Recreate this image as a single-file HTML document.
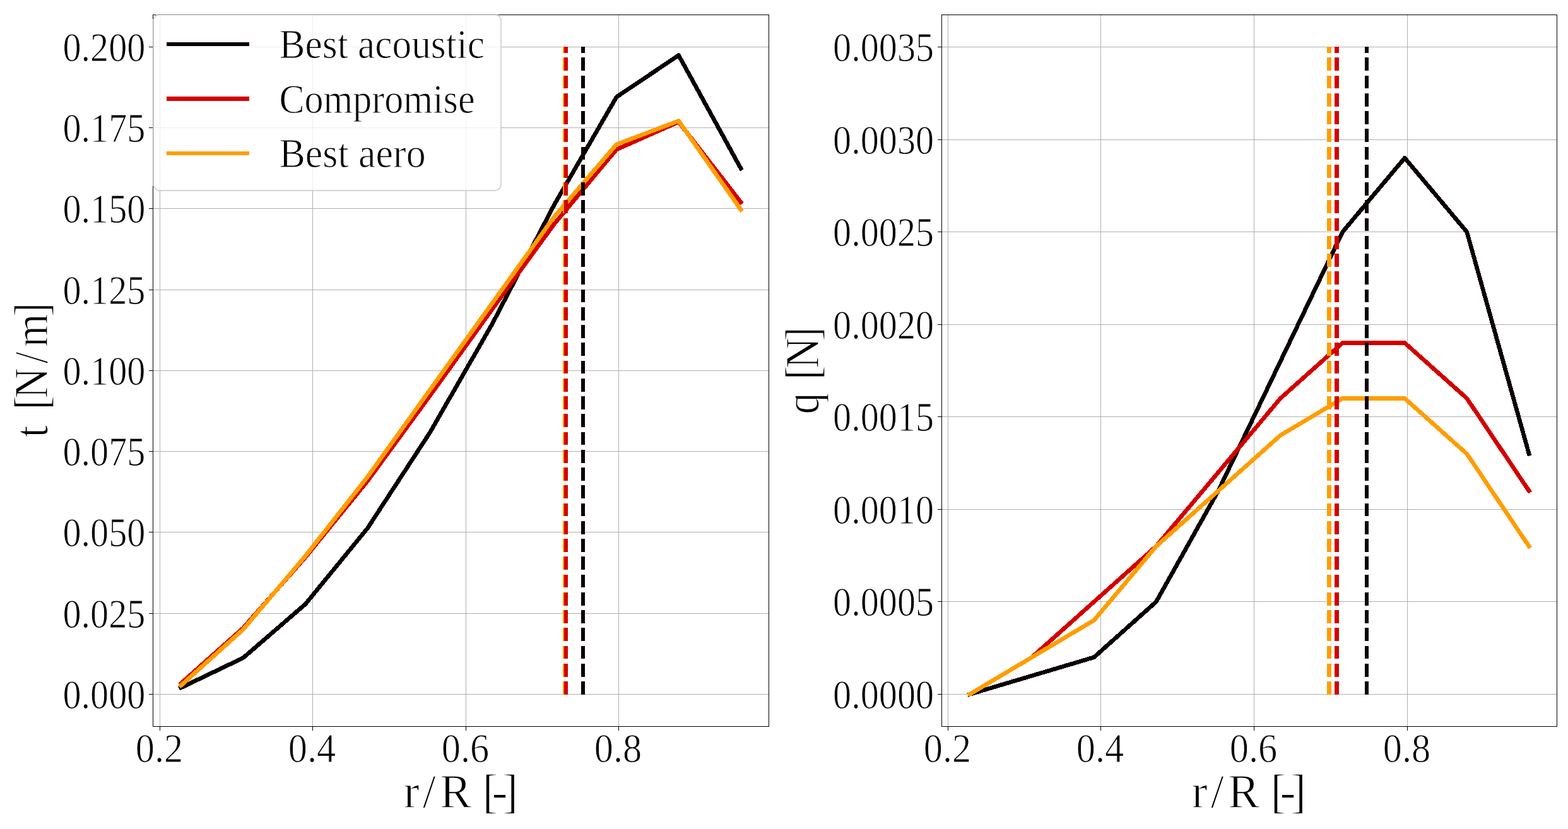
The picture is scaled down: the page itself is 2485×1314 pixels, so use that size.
<!DOCTYPE html>
<html lang="en"><head><meta charset="utf-8"><title>Thrust and torque distribution</title>
<style>html,body{margin:0;padding:0;background:#fff;}svg{display:block;}text{font-family:"Liberation Serif",serif;fill:#000;stroke:#fff;stroke-width:1px;stroke-linejoin:round;paint-order:fill stroke;}#axis-labels text{stroke-width:1.3px;}</style></head>
<body>
<svg width="2485" height="1314" viewBox="0 0 2485 1314">
<rect x="0" y="0" width="2485" height="1314" fill="#ffffff"/>
<g id="left-axes">
<line x1="253.5" y1="23.5" x2="253.5" y2="1151.5" stroke="#b0b0b0" stroke-width="1" shape-rendering="crispEdges"/>
<line x1="495.5" y1="23.5" x2="495.5" y2="1151.5" stroke="#b0b0b0" stroke-width="1" shape-rendering="crispEdges"/>
<line x1="738.5" y1="23.5" x2="738.5" y2="1151.5" stroke="#b0b0b0" stroke-width="1" shape-rendering="crispEdges"/>
<line x1="980.5" y1="23.5" x2="980.5" y2="1151.5" stroke="#b0b0b0" stroke-width="1" shape-rendering="crispEdges"/>
<line x1="242.5" y1="1100.5" x2="1218.5" y2="1100.5" stroke="#b0b0b0" stroke-width="1" shape-rendering="crispEdges"/>
<line x1="242.5" y1="972.5" x2="1218.5" y2="972.5" stroke="#b0b0b0" stroke-width="1" shape-rendering="crispEdges"/>
<line x1="242.5" y1="843.5" x2="1218.5" y2="843.5" stroke="#b0b0b0" stroke-width="1" shape-rendering="crispEdges"/>
<line x1="242.5" y1="715.5" x2="1218.5" y2="715.5" stroke="#b0b0b0" stroke-width="1" shape-rendering="crispEdges"/>
<line x1="242.5" y1="587.5" x2="1218.5" y2="587.5" stroke="#b0b0b0" stroke-width="1" shape-rendering="crispEdges"/>
<line x1="242.5" y1="459.5" x2="1218.5" y2="459.5" stroke="#b0b0b0" stroke-width="1" shape-rendering="crispEdges"/>
<line x1="242.5" y1="330.5" x2="1218.5" y2="330.5" stroke="#b0b0b0" stroke-width="1" shape-rendering="crispEdges"/>
<line x1="242.5" y1="202.5" x2="1218.5" y2="202.5" stroke="#b0b0b0" stroke-width="1" shape-rendering="crispEdges"/>
<line x1="242.5" y1="74.5" x2="1218.5" y2="74.5" stroke="#b0b0b0" stroke-width="1" shape-rendering="crispEdges"/>
<polyline points="286.9,1090 385.48,1042.7 484.06,957.5 582.63,837 681.21,685.8 779.79,514 878.37,324.5 976.94,153.9 1075.52,87.6 1174.1,267" fill="none" stroke="#0b0000" stroke-width="6.7" stroke-linejoin="round" stroke-linecap="square" shape-rendering="crispEdges"/>
<polyline points="286.9,1083.1 385.48,995.4 484.06,883.2 582.63,762.2 681.21,627.5 779.79,490.5 878.37,355 976.94,237 1075.52,193.3 1174.1,320.5" fill="none" stroke="#d30000" stroke-width="6.7" stroke-linejoin="round" stroke-linecap="square" shape-rendering="crispEdges"/>
<polyline points="286.9,1086.4 385.48,997.6 484.06,881.2 582.63,755.7 681.21,618.3 779.79,481 878.37,343.5 976.94,229 1075.52,191.6 1174.1,332.3" fill="none" stroke="#ff9d00" stroke-width="6.7" stroke-linejoin="round" stroke-linecap="square" shape-rendering="crispEdges"/>
<line x1="924" y1="1100.9" x2="924" y2="74" stroke="#0b0000" stroke-width="6" stroke-dasharray="20.7 7.55" shape-rendering="crispEdges"/>
<line x1="895" y1="1100.9" x2="895" y2="74" stroke="#ff9d00" stroke-width="6" stroke-dasharray="20.7 7.55" shape-rendering="crispEdges"/>
<line x1="897" y1="1100.9" x2="897" y2="74" stroke="#d30000" stroke-width="6" stroke-dasharray="20.7 7.55" shape-rendering="crispEdges"/>
<line x1="253.5" y1="1151.5" x2="253.5" y2="1158.0" stroke="#000" stroke-width="1" shape-rendering="crispEdges"/>
<line x1="495.5" y1="1151.5" x2="495.5" y2="1158.0" stroke="#000" stroke-width="1" shape-rendering="crispEdges"/>
<line x1="738.5" y1="1151.5" x2="738.5" y2="1158.0" stroke="#000" stroke-width="1" shape-rendering="crispEdges"/>
<line x1="980.5" y1="1151.5" x2="980.5" y2="1158.0" stroke="#000" stroke-width="1" shape-rendering="crispEdges"/>
<line x1="236.0" y1="1100.5" x2="242.5" y2="1100.5" stroke="#000" stroke-width="1" shape-rendering="crispEdges"/>
<line x1="236.0" y1="972.5" x2="242.5" y2="972.5" stroke="#000" stroke-width="1" shape-rendering="crispEdges"/>
<line x1="236.0" y1="843.5" x2="242.5" y2="843.5" stroke="#000" stroke-width="1" shape-rendering="crispEdges"/>
<line x1="236.0" y1="715.5" x2="242.5" y2="715.5" stroke="#000" stroke-width="1" shape-rendering="crispEdges"/>
<line x1="236.0" y1="587.5" x2="242.5" y2="587.5" stroke="#000" stroke-width="1" shape-rendering="crispEdges"/>
<line x1="236.0" y1="459.5" x2="242.5" y2="459.5" stroke="#000" stroke-width="1" shape-rendering="crispEdges"/>
<line x1="236.0" y1="330.5" x2="242.5" y2="330.5" stroke="#000" stroke-width="1" shape-rendering="crispEdges"/>
<line x1="236.0" y1="202.5" x2="242.5" y2="202.5" stroke="#000" stroke-width="1" shape-rendering="crispEdges"/>
<line x1="236.0" y1="74.5" x2="242.5" y2="74.5" stroke="#000" stroke-width="1" shape-rendering="crispEdges"/>
<rect x="242.5" y="23.5" width="976.0" height="1128.0" fill="none" stroke="#000" stroke-width="1" shape-rendering="crispEdges"/>
</g>
<g id="right-axes">
<line x1="1502.5" y1="23.5" x2="1502.5" y2="1151.5" stroke="#b0b0b0" stroke-width="1" shape-rendering="crispEdges"/>
<line x1="1744.5" y1="23.5" x2="1744.5" y2="1151.5" stroke="#b0b0b0" stroke-width="1" shape-rendering="crispEdges"/>
<line x1="1987.5" y1="23.5" x2="1987.5" y2="1151.5" stroke="#b0b0b0" stroke-width="1" shape-rendering="crispEdges"/>
<line x1="2230.5" y1="23.5" x2="2230.5" y2="1151.5" stroke="#b0b0b0" stroke-width="1" shape-rendering="crispEdges"/>
<line x1="1492.5" y1="1100.5" x2="2467.5" y2="1100.5" stroke="#b0b0b0" stroke-width="1" shape-rendering="crispEdges"/>
<line x1="1492.5" y1="953.5" x2="2467.5" y2="953.5" stroke="#b0b0b0" stroke-width="1" shape-rendering="crispEdges"/>
<line x1="1492.5" y1="807.5" x2="2467.5" y2="807.5" stroke="#b0b0b0" stroke-width="1" shape-rendering="crispEdges"/>
<line x1="1492.5" y1="660.5" x2="2467.5" y2="660.5" stroke="#b0b0b0" stroke-width="1" shape-rendering="crispEdges"/>
<line x1="1492.5" y1="514.5" x2="2467.5" y2="514.5" stroke="#b0b0b0" stroke-width="1" shape-rendering="crispEdges"/>
<line x1="1492.5" y1="367.5" x2="2467.5" y2="367.5" stroke="#b0b0b0" stroke-width="1" shape-rendering="crispEdges"/>
<line x1="1492.5" y1="221.5" x2="2467.5" y2="221.5" stroke="#b0b0b0" stroke-width="1" shape-rendering="crispEdges"/>
<line x1="1492.5" y1="74.5" x2="2467.5" y2="74.5" stroke="#b0b0b0" stroke-width="1" shape-rendering="crispEdges"/>
<polyline points="1536.8,1100.45 1635.29,1071.14 1733.78,1041.82 1832.27,953.88 1930.76,777.99 2029.24,572.79 2127.73,367.59 2226.22,250.34 2324.71,367.59 2423.2,719.36" fill="none" stroke="#0b0000" stroke-width="6.7" stroke-linejoin="round" stroke-linecap="square" shape-rendering="crispEdges"/>
<polyline points="1536.8,1100.45 1635.29,1041.82 1733.78,953.88 1832.27,865.94 1930.76,748.68 2029.24,631.42 2127.73,543.48 2226.22,543.48 2324.71,631.42 2423.2,777.99" fill="none" stroke="#d30000" stroke-width="6.7" stroke-linejoin="round" stroke-linecap="square" shape-rendering="crispEdges"/>
<polyline points="1536.8,1100.45 1635.29,1041.82 1733.78,983.19 1832.27,865.94 1930.76,777.99 2029.24,690.05 2127.73,631.42 2226.22,631.42 2324.71,719.36 2423.2,865.94" fill="none" stroke="#ff9d00" stroke-width="6.7" stroke-linejoin="round" stroke-linecap="square" shape-rendering="crispEdges"/>
<line x1="2166" y1="1100.9" x2="2166" y2="74" stroke="#0b0000" stroke-width="6" stroke-dasharray="20.7 7.55" shape-rendering="crispEdges"/>
<line x1="2106.5" y1="1100.9" x2="2106.5" y2="74" stroke="#ff9d00" stroke-width="7" stroke-dasharray="20.7 7.55" shape-rendering="crispEdges"/>
<line x1="2118.5" y1="1100.9" x2="2118.5" y2="74" stroke="#d30000" stroke-width="7" stroke-dasharray="20.7 7.55" shape-rendering="crispEdges"/>
<line x1="1502.5" y1="1151.5" x2="1502.5" y2="1158.0" stroke="#000" stroke-width="1" shape-rendering="crispEdges"/>
<line x1="1744.5" y1="1151.5" x2="1744.5" y2="1158.0" stroke="#000" stroke-width="1" shape-rendering="crispEdges"/>
<line x1="1987.5" y1="1151.5" x2="1987.5" y2="1158.0" stroke="#000" stroke-width="1" shape-rendering="crispEdges"/>
<line x1="2230.5" y1="1151.5" x2="2230.5" y2="1158.0" stroke="#000" stroke-width="1" shape-rendering="crispEdges"/>
<line x1="1486.0" y1="1100.5" x2="1492.5" y2="1100.5" stroke="#000" stroke-width="1" shape-rendering="crispEdges"/>
<line x1="1486.0" y1="953.5" x2="1492.5" y2="953.5" stroke="#000" stroke-width="1" shape-rendering="crispEdges"/>
<line x1="1486.0" y1="807.5" x2="1492.5" y2="807.5" stroke="#000" stroke-width="1" shape-rendering="crispEdges"/>
<line x1="1486.0" y1="660.5" x2="1492.5" y2="660.5" stroke="#000" stroke-width="1" shape-rendering="crispEdges"/>
<line x1="1486.0" y1="514.5" x2="1492.5" y2="514.5" stroke="#000" stroke-width="1" shape-rendering="crispEdges"/>
<line x1="1486.0" y1="367.5" x2="1492.5" y2="367.5" stroke="#000" stroke-width="1" shape-rendering="crispEdges"/>
<line x1="1486.0" y1="221.5" x2="1492.5" y2="221.5" stroke="#000" stroke-width="1" shape-rendering="crispEdges"/>
<line x1="1486.0" y1="74.5" x2="1492.5" y2="74.5" stroke="#000" stroke-width="1" shape-rendering="crispEdges"/>
<rect x="1492.5" y="23.5" width="975.0" height="1128.0" fill="none" stroke="#000" stroke-width="1" shape-rendering="crispEdges"/>
</g>
<g id="tick-labels">
<text x="230.4" y="1122.9" font-size="64.8" text-anchor="end" textLength="130.95" lengthAdjust="spacingAndGlyphs">0.000</text>
<text x="230.4" y="994.9" font-size="64.8" text-anchor="end" textLength="130.95" lengthAdjust="spacingAndGlyphs">0.025</text>
<text x="230.4" y="865.9" font-size="64.8" text-anchor="end" textLength="130.95" lengthAdjust="spacingAndGlyphs">0.050</text>
<text x="230.4" y="737.9" font-size="64.8" text-anchor="end" textLength="130.95" lengthAdjust="spacingAndGlyphs">0.075</text>
<text x="230.4" y="609.9" font-size="64.8" text-anchor="end" textLength="130.95" lengthAdjust="spacingAndGlyphs">0.100</text>
<text x="230.4" y="481.9" font-size="64.8" text-anchor="end" textLength="130.95" lengthAdjust="spacingAndGlyphs">0.125</text>
<text x="230.4" y="352.9" font-size="64.8" text-anchor="end" textLength="130.95" lengthAdjust="spacingAndGlyphs">0.150</text>
<text x="230.4" y="224.9" font-size="64.8" text-anchor="end" textLength="130.95" lengthAdjust="spacingAndGlyphs">0.175</text>
<text x="230.4" y="96.9" font-size="64.8" text-anchor="end" textLength="130.95" lengthAdjust="spacingAndGlyphs">0.200</text>
<text x="1480.1" y="1122.9" font-size="64.8" text-anchor="end" textLength="160.05" lengthAdjust="spacingAndGlyphs">0.0000</text>
<text x="1480.1" y="975.9" font-size="64.8" text-anchor="end" textLength="160.05" lengthAdjust="spacingAndGlyphs">0.0005</text>
<text x="1480.1" y="829.9" font-size="64.8" text-anchor="end" textLength="160.05" lengthAdjust="spacingAndGlyphs">0.0010</text>
<text x="1480.1" y="682.9" font-size="64.8" text-anchor="end" textLength="160.05" lengthAdjust="spacingAndGlyphs">0.0015</text>
<text x="1480.1" y="536.9" font-size="64.8" text-anchor="end" textLength="160.05" lengthAdjust="spacingAndGlyphs">0.0020</text>
<text x="1480.1" y="389.9" font-size="64.8" text-anchor="end" textLength="160.05" lengthAdjust="spacingAndGlyphs">0.0025</text>
<text x="1480.1" y="243.9" font-size="64.8" text-anchor="end" textLength="160.05" lengthAdjust="spacingAndGlyphs">0.0030</text>
<text x="1480.1" y="96.9" font-size="64.8" text-anchor="end" textLength="160.05" lengthAdjust="spacingAndGlyphs">0.0035</text>
<text x="252.5" y="1207.8" font-size="64.8" text-anchor="middle" textLength="75.5" lengthAdjust="spacingAndGlyphs">0.2</text>
<text x="494.5" y="1207.8" font-size="64.8" text-anchor="middle" textLength="75.5" lengthAdjust="spacingAndGlyphs">0.4</text>
<text x="737.5" y="1207.8" font-size="64.8" text-anchor="middle" textLength="75.5" lengthAdjust="spacingAndGlyphs">0.6</text>
<text x="979.5" y="1207.8" font-size="64.8" text-anchor="middle" textLength="75.5" lengthAdjust="spacingAndGlyphs">0.8</text>
<text x="1501.5" y="1207.8" font-size="64.8" text-anchor="middle" textLength="75.5" lengthAdjust="spacingAndGlyphs">0.2</text>
<text x="1743.5" y="1207.8" font-size="64.8" text-anchor="middle" textLength="75.5" lengthAdjust="spacingAndGlyphs">0.4</text>
<text x="1986.5" y="1207.8" font-size="64.8" text-anchor="middle" textLength="75.5" lengthAdjust="spacingAndGlyphs">0.6</text>
<text x="2229.5" y="1207.8" font-size="64.8" text-anchor="middle" textLength="75.5" lengthAdjust="spacingAndGlyphs">0.8</text>
</g>
<g id="axis-labels">
<text x="639.4 669.7 696.9 750 764.5 779.5 796" y="1279.9" font-size="75.4">r/R [-]</text>
<text x="1888.4 1918.7 1945.9 1999 2013.5 2028.5 2045" y="1279.9" font-size="75.4">r/R [-]</text>
<text transform="translate(75.4,693.9) rotate(-90) scale(0.9,1)" x="0.66 31.11 49.47 69.19 130.72 159.66 212.91" y="0" font-size="75.4">t [N/m]</text>
<text transform="translate(1296.5,654.9) rotate(-90) scale(0.9,1)" x="-1.8 40 58.91 78.91 126.8" y="0" font-size="75.4">q [N]</text>
</g>
<g id="legend">
<rect x="243" y="24" width="551" height="278" rx="10" ry="10" fill="#ffffff" fill-opacity="0.8" stroke="none" shape-rendering="crispEdges"/>
<rect x="243" y="23" width="551" height="279" rx="10" ry="10" fill="none" stroke="#cccccc" stroke-opacity="0.8" stroke-width="2" shape-rendering="crispEdges"/>
<line x1="264" y1="70.0" x2="395" y2="70.0" stroke="#0b0000" stroke-width="6" shape-rendering="crispEdges"/>
<text x="442.6" y="92.0" font-size="64.6" textLength="325.5" lengthAdjust="spacingAndGlyphs">Best acoustic</text>
<line x1="264" y1="156.5" x2="395" y2="156.5" stroke="#d30000" stroke-width="7" shape-rendering="crispEdges"/>
<text x="442.6" y="178.7" font-size="64.6" textLength="310" lengthAdjust="spacingAndGlyphs">Compromise</text>
<line x1="264" y1="243.0" x2="395" y2="243.0" stroke="#ff9d00" stroke-width="6" shape-rendering="crispEdges"/>
<text x="442.6" y="265.4" font-size="64.6" textLength="232" lengthAdjust="spacingAndGlyphs">Best aero</text>
</g>
</svg>
</body></html>
